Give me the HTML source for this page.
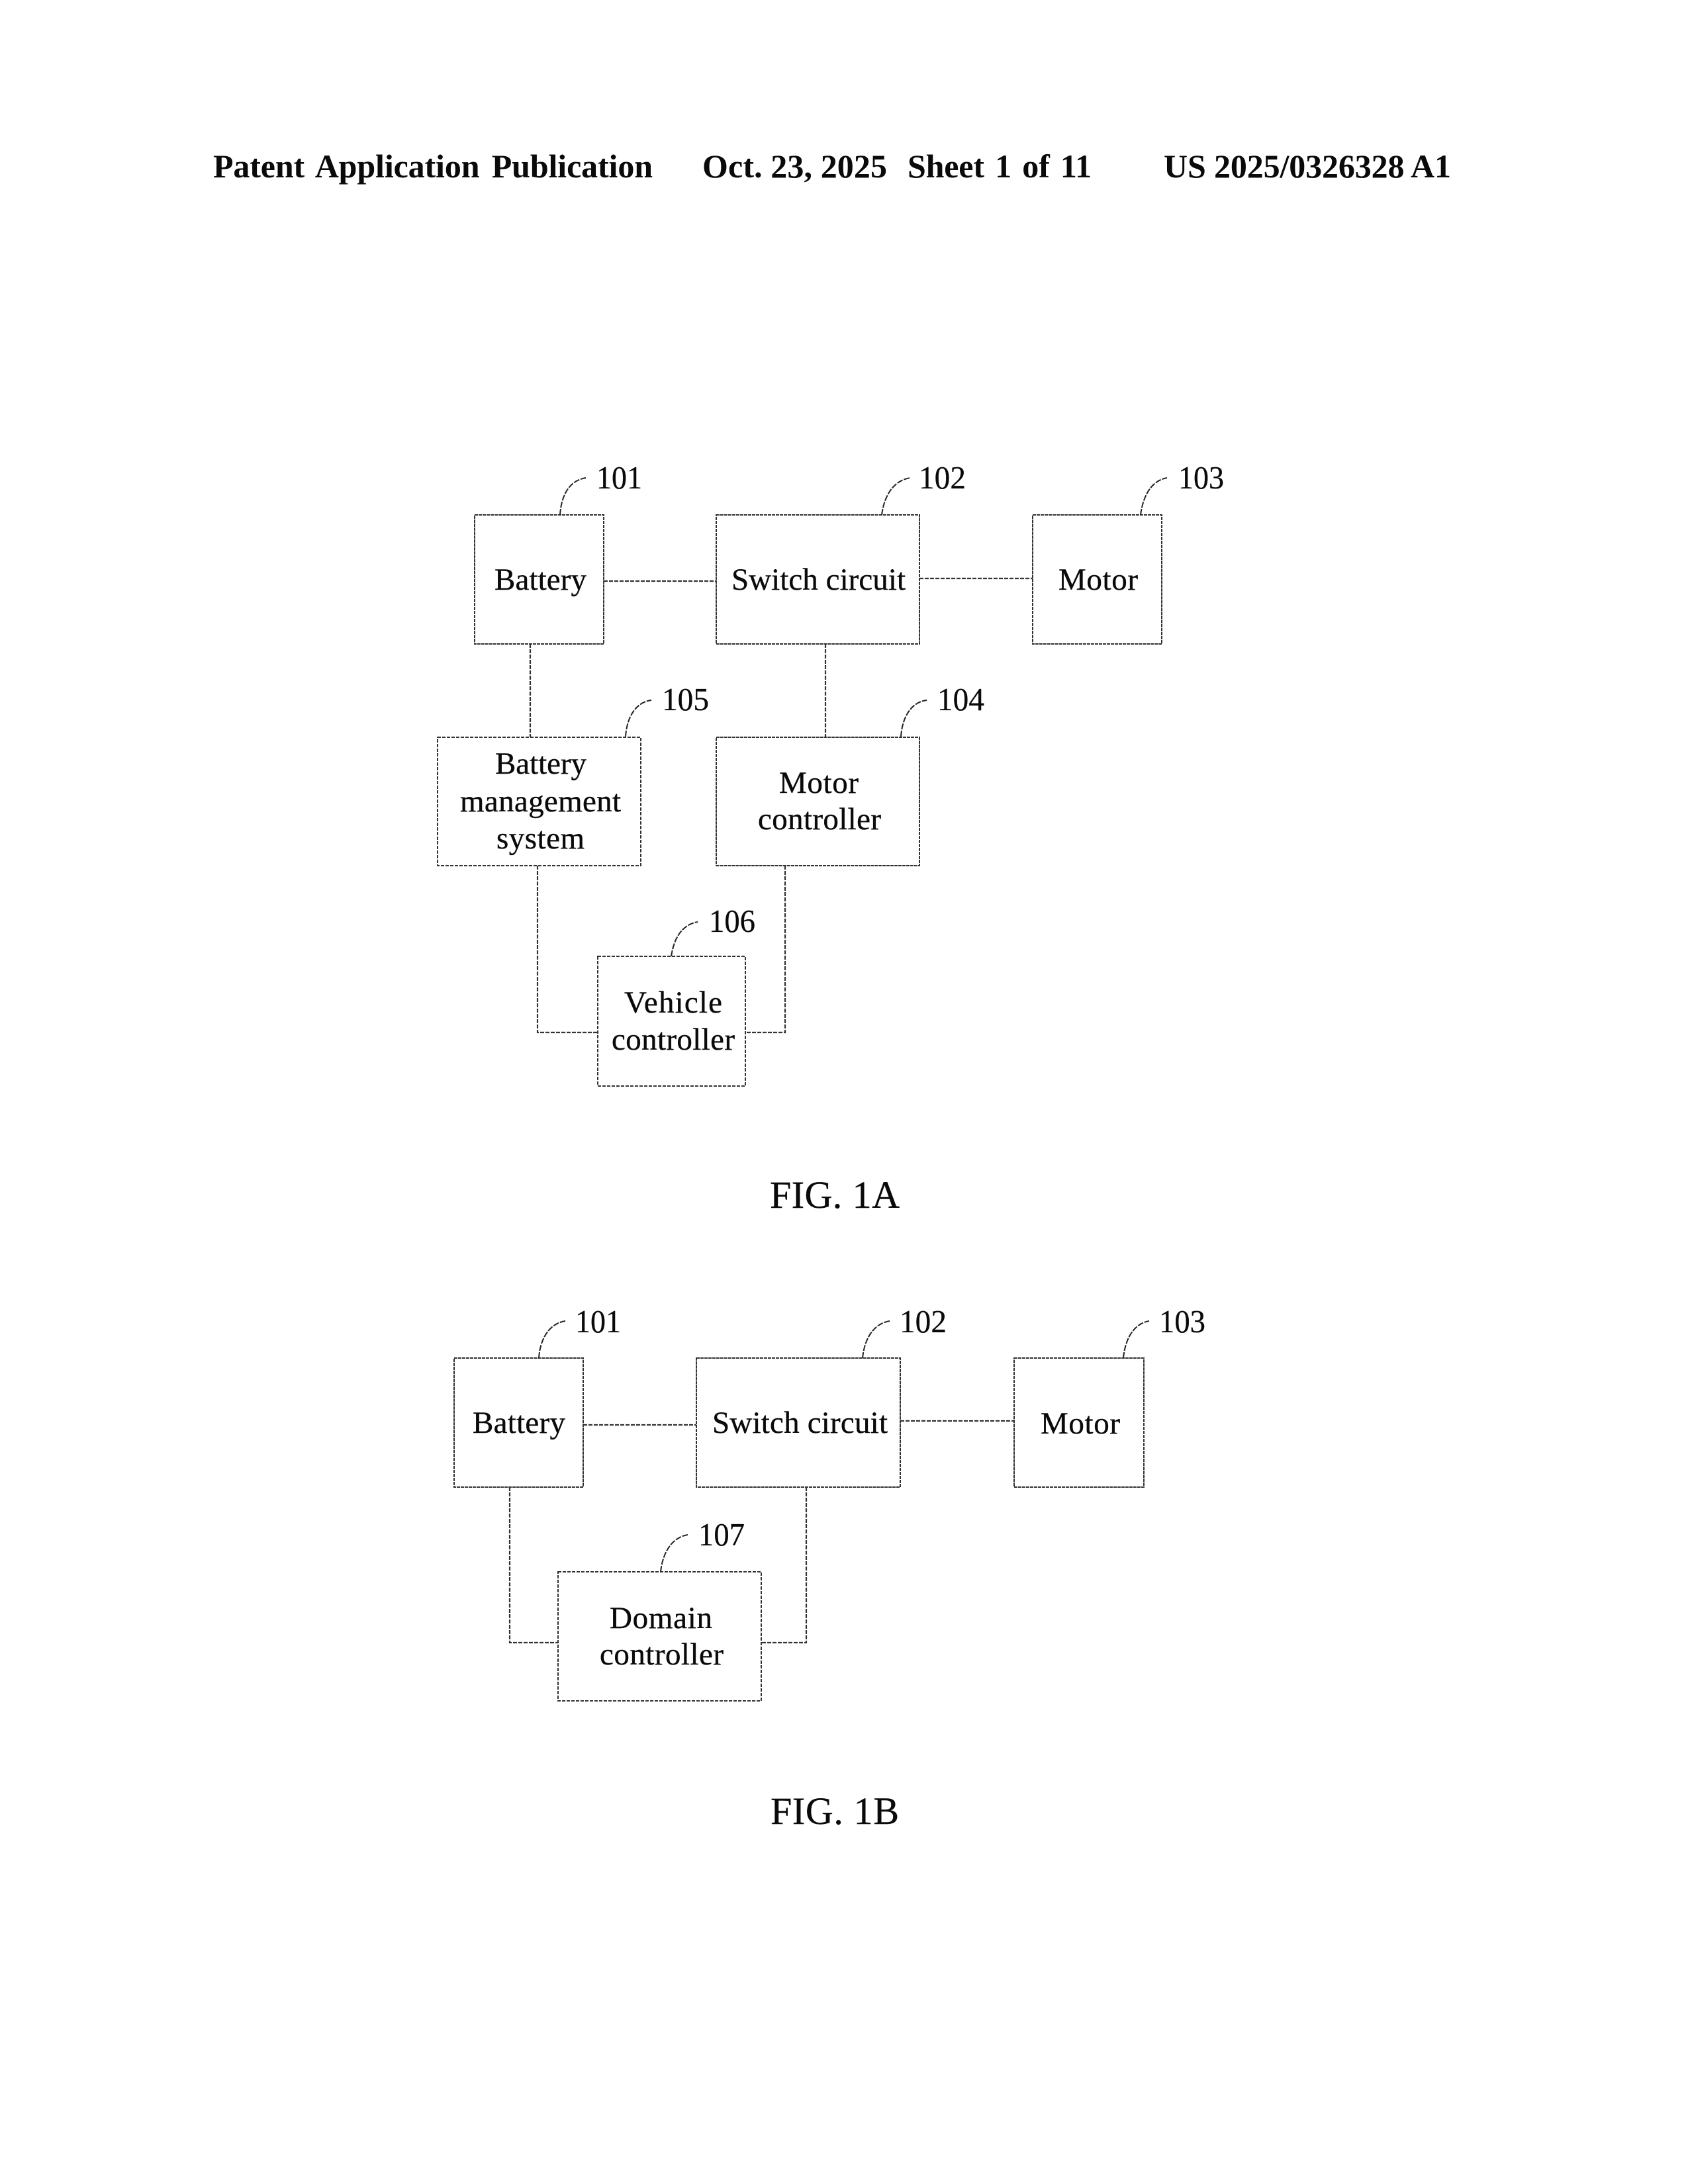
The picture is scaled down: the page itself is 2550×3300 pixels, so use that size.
<!DOCTYPE html>
<html lang="en">
<head>
<meta charset="utf-8">
<title>Patent Application Publication - FIG. 1A and FIG. 1B</title>
<style>
html,body{margin:0;padding:0;background:#fff;width:2550px;height:3300px;overflow:hidden}
svg{display:block}
text{font-family:"Liberation Serif","Times New Roman",serif;fill:#0a0a0a}
.h{font-weight:700;font-size:50px}
.t{font-size:47px;stroke:#111;stroke-width:.4}
.n{font-size:49px;stroke:#111;stroke-width:.3}
.f{font-size:58px;stroke:#111;stroke-width:.4}
.b{fill:#fff;stroke:#333;stroke-width:2;stroke-dasharray:5 1}
.d{stroke-dasharray:5 2}
.c{fill:none;stroke:#333;stroke-width:2.2}
.k{stroke-dasharray:6 2}
.l{fill:none;stroke:#222;stroke-width:2;stroke-dasharray:9 2}
</style>
</head>
<body>
<svg width="2550" height="3300" viewBox="0 0 2550 3300" xmlns="http://www.w3.org/2000/svg">
<rect width="2550" height="3300" fill="#fff"/>

<!-- Header -->
<text class="h" x="322" y="268" textLength="664" lengthAdjust="spacing" word-spacing="6">Patent Application Publication</text>
<text class="h" x="1061" y="268" textLength="279" lengthAdjust="spacing">Oct. 23, 2025</text>
<text class="h" x="1371" y="268" textLength="278" lengthAdjust="spacing" word-spacing="4">Sheet 1 of 11</text>
<text class="h" x="1758" y="268" textLength="434" lengthAdjust="spacing">US 2025/0326328 A1</text>

<!-- FIG 1A connectors -->
<path class="c k" d="M912 878H1082"/>
<path class="c k" d="M1389 874H1560"/>
<path class="c k" d="M801 973V1114"/>
<path class="c k" d="M1247 973V1114"/>
<path class="c k" d="M812 1308V1560H903"/>
<path class="c k" d="M1186 1308V1560H1126"/>

<!-- FIG 1A boxes -->
<rect class="b" x="717" y="778" width="195" height="195"/>
<rect class="b" x="1082" y="778" width="307" height="195"/>
<rect class="b" x="1560" y="778" width="195" height="195"/>
<rect class="b d" x="661" y="1114" width="307" height="194"/>
<rect class="b" x="1082" y="1114" width="307" height="194"/>
<rect class="b d" x="903" y="1445" width="223" height="196"/>

<!-- FIG 1A leaders -->
<path class="l" d="M846 778C848 748 860 726 885 722"/>
<path class="l" d="M1332 778C1336 748 1350 726 1375 722"/>
<path class="l" d="M1723 778C1727 748 1740 726 1763 722"/>
<path class="l" d="M945 1113C947 1084 960 1061 984 1058"/>
<path class="l" d="M1361 1113C1363 1084 1376 1061 1400 1058"/>
<path class="l" d="M1014 1445C1018 1418 1030 1397 1054 1393"/>

<!-- FIG 1A labels -->
<text class="t" x="747" y="891" textLength="139" lengthAdjust="spacing">Battery</text>
<text class="t" x="1105" y="891" textLength="263" lengthAdjust="spacing">Switch circuit</text>
<text class="t" x="1599" y="891" textLength="120" lengthAdjust="spacing">Motor</text>
<text class="t" x="748" y="1169" textLength="138" lengthAdjust="spacing">Battery</text>
<text class="t" x="695" y="1226" textLength="243" lengthAdjust="spacing">management</text>
<text class="t" x="750" y="1282" textLength="133" lengthAdjust="spacing">system</text>
<text class="t" x="1177" y="1198" textLength="120" lengthAdjust="spacing">Motor</text>
<text class="t" x="1145" y="1253" textLength="186" lengthAdjust="spacing">controller</text>
<text class="t" x="943" y="1530" textLength="148" lengthAdjust="spacing">Vehicle</text>
<text class="t" x="924" y="1586" textLength="186" lengthAdjust="spacing">controller</text>

<text class="n" x="901" y="738" textLength="69" lengthAdjust="spacingAndGlyphs">101</text>
<text class="n" x="1388" y="738" textLength="71" lengthAdjust="spacingAndGlyphs">102</text>
<text class="n" x="1780" y="738" textLength="69" lengthAdjust="spacingAndGlyphs">103</text>
<text class="n" x="1000" y="1073" textLength="71" lengthAdjust="spacingAndGlyphs">105</text>
<text class="n" x="1416" y="1073" textLength="71" lengthAdjust="spacingAndGlyphs">104</text>
<text class="n" x="1071" y="1408" textLength="70" lengthAdjust="spacingAndGlyphs">106</text>

<text class="f" x="1163" y="1825" textLength="196" lengthAdjust="spacing">FIG. 1A</text>

<!-- FIG 1B connectors -->
<path class="c k" d="M881 2153H1052"/>
<path class="c k" d="M1360 2147H1532"/>
<path class="c k" d="M770 2247V2482H843"/>
<path class="c k" d="M1218 2247V2482H1150"/>

<!-- FIG 1B boxes -->
<rect class="b" x="686" y="2052" width="195" height="195"/>
<rect class="b" x="1052" y="2052" width="308" height="195"/>
<rect class="b" x="1532" y="2052" width="196" height="195"/>
<rect class="b d" x="843" y="2375" width="307" height="195"/>

<!-- FIG 1B leaders -->
<path class="l" d="M814 2052C816 2022 830 2000 854 1996"/>
<path class="l" d="M1303 2052C1306 2022 1320 2000 1344 1996"/>
<path class="l" d="M1697 2052C1700 2022 1713 2000 1736 1996"/>
<path class="l" d="M998 2375C1001 2346 1015 2323 1039 2319"/>

<!-- FIG 1B labels -->
<text class="t" x="714" y="2165" textLength="140" lengthAdjust="spacing">Battery</text>
<text class="t" x="1076" y="2165" textLength="265" lengthAdjust="spacing">Switch circuit</text>
<text class="t" x="1572" y="2166" textLength="120" lengthAdjust="spacing">Motor</text>
<text class="t" x="921" y="2460" textLength="155" lengthAdjust="spacing">Domain</text>
<text class="t" x="906" y="2515" textLength="187" lengthAdjust="spacing">controller</text>

<text class="n" x="869" y="2013" textLength="69" lengthAdjust="spacingAndGlyphs">101</text>
<text class="n" x="1359" y="2013" textLength="71" lengthAdjust="spacingAndGlyphs">102</text>
<text class="n" x="1751" y="2013" textLength="70" lengthAdjust="spacingAndGlyphs">103</text>
<text class="n" x="1055" y="2335" textLength="70" lengthAdjust="spacingAndGlyphs">107</text>

<text class="f" x="1164" y="2756" textLength="194" lengthAdjust="spacing">FIG. 1B</text>
</svg>
</body>
</html>
